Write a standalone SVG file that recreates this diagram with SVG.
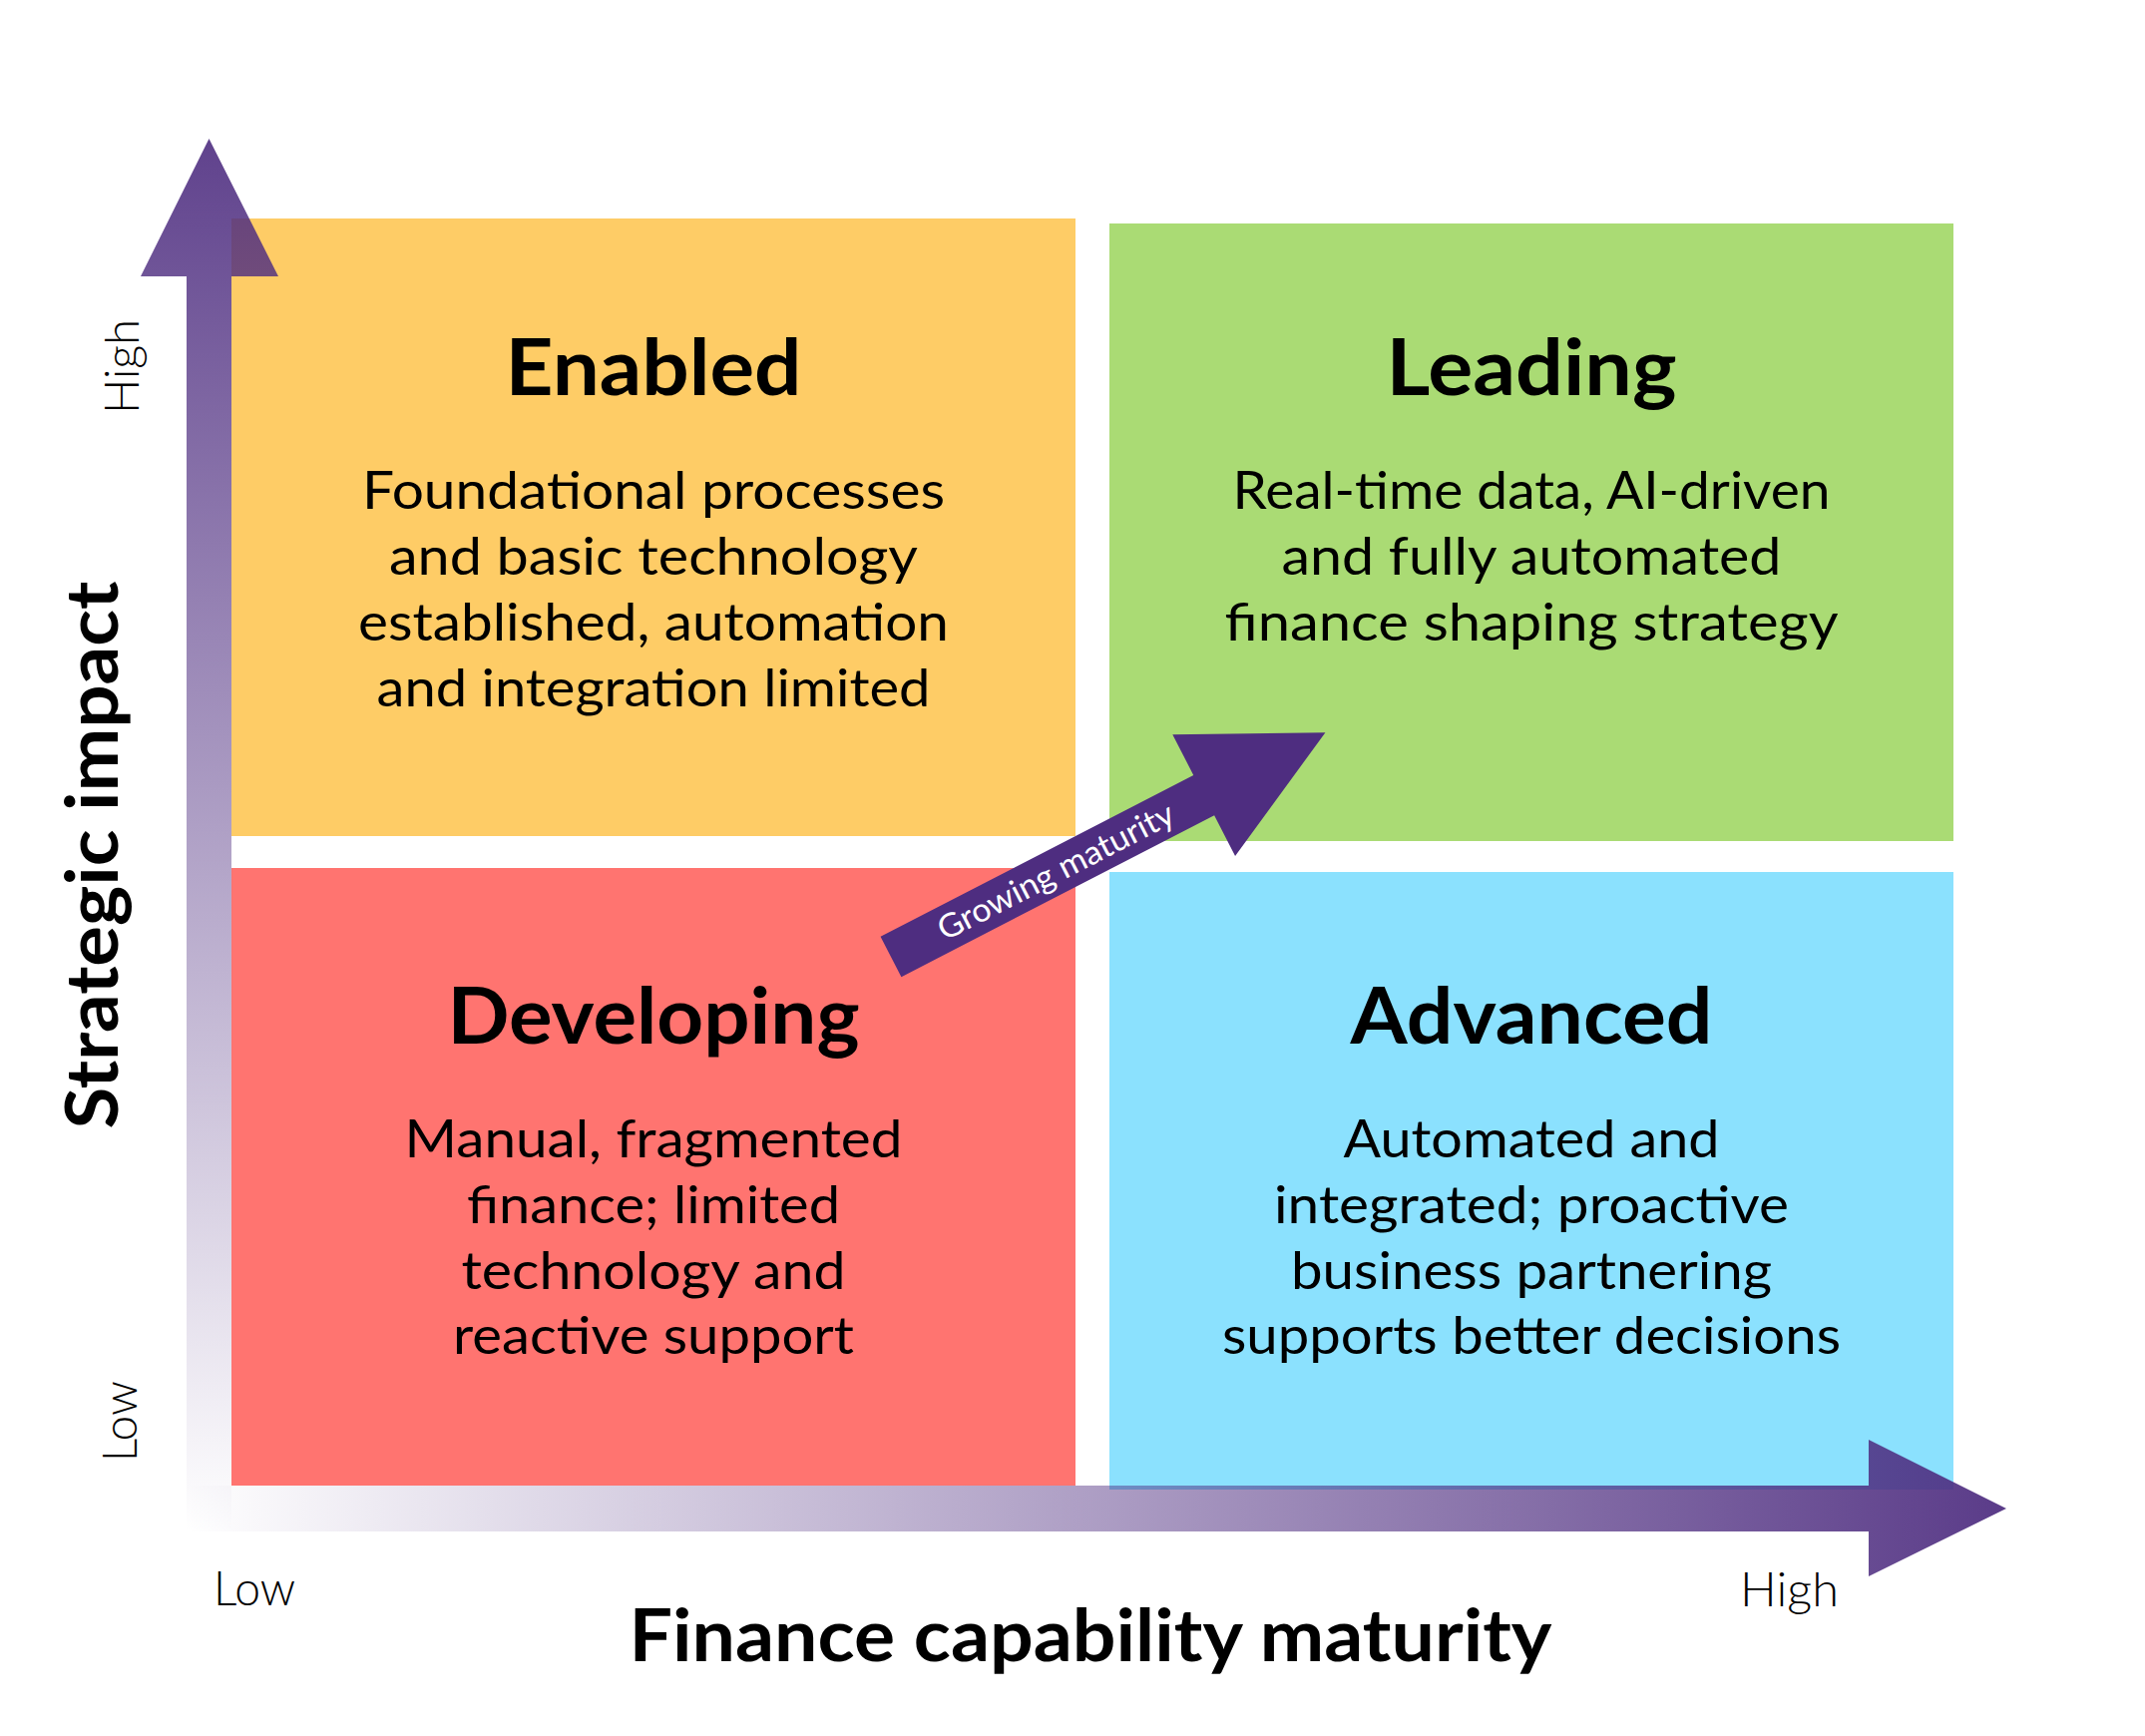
<svg xmlns="http://www.w3.org/2000/svg" width="2150" height="1740" viewBox="0 0 2150 1740">
  <style>
    text { font-family: Lato, "Open Sans", "Liberation Sans", sans-serif; fill: #000; }
    .title { font-size: 78px; font-weight: 700; text-anchor: middle; }
    .body { font-size: 52px; font-weight: 400; text-anchor: middle; }
    .axis { font-size: 72px; font-weight: 700; text-anchor: middle; }
    .tick { font-size: 47px; font-weight: 300; }
    .grow { font-size: 33px; font-weight: 400; fill: #fff; text-anchor: middle; }
  </style>
  <defs>
    <linearGradient id="gradV" x1="0" y1="139" x2="0" y2="1535" gradientUnits="userSpaceOnUse">
      <stop offset="0" stop-color="#4e2d80" stop-opacity="0.9"/>
      <stop offset="1" stop-color="#4e2d80" stop-opacity="0"/>
    </linearGradient>
    <linearGradient id="gradH" x1="187" y1="0" x2="2011" y2="0" gradientUnits="userSpaceOnUse">
      <stop offset="0" stop-color="#4e2d80" stop-opacity="0"/>
      <stop offset="1" stop-color="#4e2d80" stop-opacity="0.93"/>
    </linearGradient>
  </defs>
  <rect width="2150" height="1740" fill="#fff"/>

  <g id="enabled">
    <rect x="232" y="219" width="846" height="619" fill="#fecc66"/>
    <text class="title" x="655" y="396" textLength="297" lengthAdjust="spacingAndGlyphs">Enabled</text>
    <text class="body" x="655" y="510" textLength="584" lengthAdjust="spacingAndGlyphs">Foundational processes</text>
    <text class="body" x="655" y="576" textLength="530" lengthAdjust="spacingAndGlyphs">and basic technology</text>
    <text class="body" x="655" y="642" textLength="592" lengthAdjust="spacingAndGlyphs">established, automation</text>
    <text class="body" x="655" y="708" textLength="555" lengthAdjust="spacingAndGlyphs">and integration limited</text>
  </g>

  <g id="leading">
    <rect x="1112" y="224" width="846" height="619" fill="#aadb74"/>
    <text class="title" x="1535" y="396" textLength="291" lengthAdjust="spacingAndGlyphs">Leading</text>
    <text class="body" x="1535" y="510" textLength="599" lengthAdjust="spacingAndGlyphs">Real-time data, AI-driven</text>
    <text class="body" x="1535" y="576" textLength="501" lengthAdjust="spacingAndGlyphs">and fully automated</text>
    <text class="body" x="1535" y="642" textLength="615" lengthAdjust="spacingAndGlyphs">finance shaping strategy</text>
  </g>

  <g id="developing">
    <rect x="232" y="870" width="846" height="619" fill="#ff7470"/>
    <text class="title" x="655" y="1046" textLength="413" lengthAdjust="spacingAndGlyphs">Developing</text>
    <text class="body" x="655" y="1160" textLength="499" lengthAdjust="spacingAndGlyphs">Manual, fragmented</text>
    <text class="body" x="655" y="1226" textLength="374" lengthAdjust="spacingAndGlyphs">finance; limited</text>
    <text class="body" x="655" y="1292" textLength="385" lengthAdjust="spacingAndGlyphs">technology and</text>
    <text class="body" x="655" y="1357" textLength="402" lengthAdjust="spacingAndGlyphs">reactive support</text>
  </g>

  <g id="advanced">
    <rect x="1112" y="874" width="846" height="619" fill="#8be1fe"/>
    <text class="title" x="1535" y="1046" textLength="363" lengthAdjust="spacingAndGlyphs">Advanced</text>
    <text class="body" x="1535" y="1160" textLength="377" lengthAdjust="spacingAndGlyphs">Automated and</text>
    <text class="body" x="1535" y="1226" textLength="516" lengthAdjust="spacingAndGlyphs">integrated; proactive</text>
    <text class="body" x="1535" y="1292" textLength="482" lengthAdjust="spacingAndGlyphs">business partnering</text>
    <text class="body" x="1535" y="1357" textLength="620" lengthAdjust="spacingAndGlyphs">supports better decisions</text>
  </g>

  <g id="connectors">
    <polygon id="axis-y" points="209.5,139 279,277 232,277 232,1535 187,1535 187,277 141,277" fill="url(#gradV)"/>
    <polygon id="axis-x" points="187,1489 1873,1489 1873,1443 2011,1512 1873,1580 1873,1535 187,1535" fill="url(#gradH)"/>
    <g id="growing-maturity" transform="translate(893,959) rotate(-27.3)">
      <polygon points="0,-22.75 353,-22.75 353,-68.4 490,0 353,68.4 353,22.75 0,22.75" fill="#4e2d80"/>
      <text class="grow" x="186" y="11" textLength="262" lengthAdjust="spacingAndGlyphs">Growing maturity</text>
    </g>
  </g>

  <g id="axis-labels">
    <text class="axis" transform="translate(118,857) rotate(-90)" x="0" y="0" font-size="76" textLength="549" lengthAdjust="spacingAndGlyphs">Strategic impact</text>
    <text class="axis" x="1093" y="1665" textLength="925" lengthAdjust="spacingAndGlyphs">Finance capability maturity</text>
    <text class="tick" transform="translate(138.5,367.5) rotate(-90)" text-anchor="middle" textLength="95" lengthAdjust="spacingAndGlyphs">High</text>
    <text class="tick" transform="translate(137,1424.5) rotate(-90)" text-anchor="middle" textLength="81" lengthAdjust="spacingAndGlyphs">Low</text>
    <text class="tick" x="214" y="1609" textLength="82" lengthAdjust="spacingAndGlyphs">Low</text>
    <text class="tick" x="1744" y="1610" textLength="99" lengthAdjust="spacingAndGlyphs">High</text>
  </g>
</svg>
